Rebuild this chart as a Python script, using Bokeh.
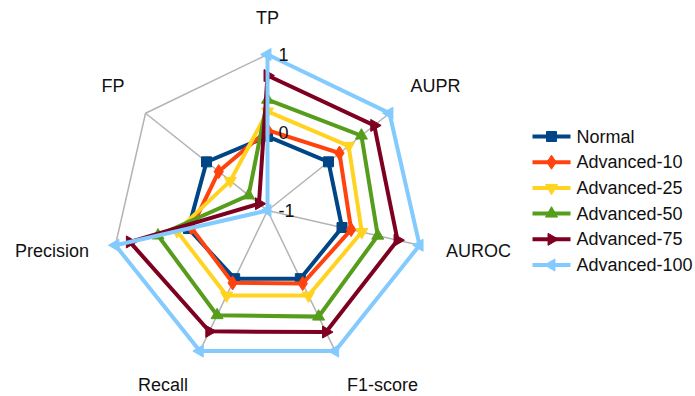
import math

from bokeh.core.properties import value
from bokeh.embed import file_html
from bokeh.models import ColumnDataSource, Range1d
from bokeh.plotting import figure
from bokeh.resources import INLINE

# ---- data -------------------------------------------------------------
metrics = ["TP", "AUPR", "AUROC", "F1-score", "Recall", "Precision", "FP"]

series_names = ["Normal", "Advanced-10", "Advanced-25",
                "Advanced-50", "Advanced-75", "Advanced-100"]

normal = [-0.05, 0.00, -0.02, -0.03, -0.03, 0.04, 0.00]
advanced_10 = [0.03, 0.18, 0.10, 0.04, 0.03, 0.00, -0.20]
advanced_25 = [0.27, 0.33, 0.24, 0.21, 0.21, 0.19, -0.39]
advanced_50 = [0.42, 0.54, 0.45, 0.51, 0.49, 0.44, -0.69]
advanced_75 = [0.73, 0.75, 0.71, 0.73, 0.72, 0.81, -0.86]
advanced_100 = [1.00, 1.00, 1.00, 1.00, 1.00, 1.00, -1.00]

tick_values = [1, 0, -1]
tick_labels = ["1", "0", "-1"]

# ---- styling ------------------------------------------------------------
colors = ["#004586", "#ff420e", "#ffd320", "#579d1c", "#7e0021", "#83caff"]
markers = ["square", "diamond", "inverted_triangle", "triangle", "triangle", "triangle"]
marker_angles = [0, 0, 0, 0, -math.pi / 2, math.pi / 2]
marker_sizes = [10, 14, 12, 12, 12, 12]

FONT = value("Liberation Sans")
FONT_SIZE = value("18px")
TEXT_COLOR = "#111111"

W, H = 695, 396
CX, CY = 267, 210          # pixel position of the radar centre
UNIT = 156                  # pixels for the full -1..1 radius
V_MIN, V_MAX = -1.0, 1.0

n = len(metrics)
angles = [math.pi / 2 - 2 * math.pi * k / n for k in range(n)]


def radius(v):
    return (v - V_MIN) / (V_MAX - V_MIN)


def to_xy(vals):
    xs = [radius(v) * math.cos(a) for v, a in zip(vals, angles)]
    ys = [radius(v) * math.sin(a) for v, a in zip(vals, angles)]
    return xs, ys


def px_x(px):
    return (px - CX) / UNIT


def px_y(py):
    return (CY - py) / UNIT


p = figure(width=W, height=H, output_backend="svg", toolbar_location=None,
           x_range=Range1d(-CX / UNIT, (W - CX) / UNIT),
           y_range=Range1d(-(H - CY) / UNIT, CY / UNIT),
           x_axis_type=None, y_axis_type=None, min_border=0)
p.grid.visible = False
p.outline_line_color = None
p.background_fill_color = "white"
p.border_fill_color = "white"

# ---- grid: spokes and outer ring ---------------------------------------
grid_color = "#b3b3b3"
ox, oy = to_xy([V_MAX] * n)
for x, y in zip(ox, oy):
    p.line([0, x], [0, y], line_color=grid_color, line_width=1.5)
p.line(ox + ox[:1], oy + oy[:1], line_color=grid_color, line_width=1.5)

# ---- series ------------------------------------------------------------
all_series = [normal, advanced_10, advanced_25, advanced_50, advanced_75, advanced_100]
for vals, col, mk, ang, sz in zip(all_series, colors, markers,
                                  marker_angles, marker_sizes):
    xs, ys = to_xy(vals)
    p.line(xs + xs[:1], ys + ys[:1], line_color=col, line_width=4,
           line_join="miter")
    src = ColumnDataSource(dict(x=xs, y=ys))
    p.scatter("x", "y", source=src, marker=mk, size=sz, angle=ang,
              fill_color=col, line_color=col, line_width=1)

# ---- category labels ---------------------------------------------------
label_r = 183 / UNIT
for name, a in zip(metrics, angles):
    c, s = math.cos(a), math.sin(a)
    align = "left" if c > 0.3 else ("right" if c < -0.3 else "center")
    base = "bottom" if s > 0.3 else ("top" if s < -0.3 else "middle")
    p.text([label_r * c], [label_r * s], text=[name], text_align=align,
           text_baseline=base, text_font=FONT, text_font_size=FONT_SIZE,
           text_color=TEXT_COLOR)

# ---- value labels along the first axis ---------------------------------
tick_y = [radius(v) for v in tick_values]
p.text([0] * len(tick_y), tick_y, text=tick_labels, x_offset=11,
       text_align="left", text_baseline="middle", text_font=FONT,
       text_font_size=FONT_SIZE, text_color=TEXT_COLOR)

# ---- legend (drawn as glyphs so rotated markers show correctly) --------
LEG_X0, LEG_X1, LEG_TEXT_X = 532, 570, 576
LEG_TOP, LEG_ROW = 136, 25.7
for i, (name, col, mk, ang, sz) in enumerate(zip(series_names, colors, markers,
                                                 marker_angles, marker_sizes)):
    yy = px_y(LEG_TOP + i * LEG_ROW)
    p.line([px_x(LEG_X0), px_x(LEG_X1)], [yy, yy], line_color=col, line_width=4)
    p.scatter([px_x((LEG_X0 + LEG_X1) / 2)], [yy], marker=mk, size=sz, angle=ang,
              fill_color=col, line_color=col, line_width=1)
    p.text([px_x(LEG_TEXT_X)], [yy], text=[name], text_align="left",
           text_baseline="middle", text_font=FONT, text_font_size=FONT_SIZE,
           text_color=TEXT_COLOR)

open("out.html", "w").write(file_html(p, INLINE))
